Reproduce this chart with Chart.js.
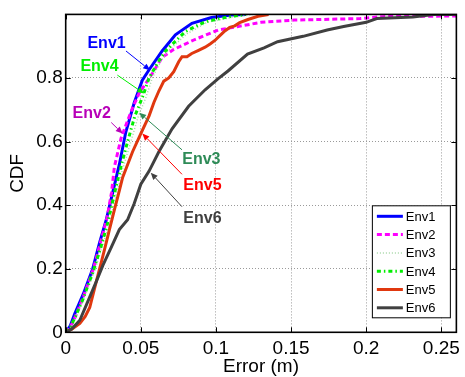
<!DOCTYPE html>
<html>
<head>
<meta charset="utf-8">
<script src="https://cdn.jsdelivr.net/npm/chart.js@4.4.0/dist/chart.umd.min.js"></script>
<style>
  body { margin: 0; background: #fff; }
  #wrap { width: 465px; height: 377px; }
</style>
</head>
<body>
<div id="wrap"><canvas id="chart" width="465" height="377"></canvas></div>
<script>
'use strict'

// error (m) / cdf pairs for each environment
const env1Err = [0, 0.003, 0.006, 0.0116, 0.018, 0.0226, 0.027, 0.0313, 0.0357, 0.040, 0.0456, 0.051, 0.0555, 0.0642, 0.073, 0.084, 0.097, 0.11, 0.12];
const env1Cdf = [0, 0.02, 0.058, 0.119, 0.2, 0.283, 0.354, 0.44, 0.528, 0.63, 0.722, 0.793, 0.826, 0.885, 0.936, 0.972, 0.99, 0.998, 1];

const env2Err = [0, 0.003, 0.0065, 0.012, 0.0185, 0.023, 0.0275, 0.0305, 0.0324, 0.0368, 0.0412, 0.0445, 0.0489, 0.0576, 0.0642, 0.072, 0.086, 0.1015, 0.1147, 0.13, 0.152, 0.196, 0.211, 0.26];
const env2Cdf = [0, 0.015, 0.05, 0.115, 0.2, 0.28, 0.36, 0.44, 0.52, 0.61, 0.666, 0.706, 0.752, 0.814, 0.865, 0.89, 0.921, 0.951, 0.962, 0.975, 0.982, 0.987, 0.993, 0.995];

const env3Err = [0, 0.0035, 0.007, 0.0125, 0.019, 0.024, 0.029, 0.0335, 0.038, 0.0434, 0.048, 0.0535, 0.0576, 0.063, 0.068, 0.081, 0.094, 0.11, 0.125];
const env3Cdf = [0, 0.015, 0.05, 0.11, 0.19, 0.265, 0.34, 0.43, 0.515, 0.6, 0.675, 0.74, 0.8, 0.85, 0.885, 0.94, 0.975, 0.99, 1];

const env4Err = [0, 0.003, 0.0065, 0.012, 0.0185, 0.0235, 0.028, 0.0324, 0.037, 0.0412, 0.046, 0.0515, 0.0555, 0.0615, 0.0664, 0.0796, 0.0928, 0.108, 0.12];
const env4Cdf = [0, 0.015, 0.05, 0.11, 0.195, 0.27, 0.345, 0.436, 0.525, 0.6, 0.68, 0.745, 0.8, 0.85, 0.885, 0.946, 0.977, 0.992, 1];

const env5Err = [0, 0.004, 0.0094, 0.013, 0.016, 0.0204, 0.0226, 0.0259, 0.0291, 0.0324, 0.0357, 0.0379, 0.0445, 0.05, 0.0555, 0.0587, 0.062, 0.0653, 0.0686, 0.0719, 0.0752, 0.0774, 0.0807, 0.0839, 0.0884, 0.0928, 0.0961, 0.0993, 0.1026, 0.1059, 0.1092, 0.1125, 0.1158, 0.1213, 0.128, 0.135];
const env5Cdf = [0, 0.01, 0.028, 0.05, 0.078, 0.16, 0.2, 0.262, 0.323, 0.385, 0.446, 0.487, 0.568, 0.625, 0.681, 0.723, 0.759, 0.79, 0.8, 0.82, 0.851, 0.867, 0.867, 0.877, 0.887, 0.897, 0.907, 0.918, 0.933, 0.948, 0.959, 0.964, 0.974, 0.984, 0.994, 1];

const env6Err = [0, 0.004, 0.0094, 0.0149, 0.0204, 0.0248, 0.0303, 0.0357, 0.0412, 0.0456, 0.05, 0.0555, 0.062, 0.0708, 0.0818, 0.0928, 0.1015, 0.108, 0.121, 0.132, 0.141, 0.158, 0.174, 0.185, 0.2, 0.207, 0.231, 0.245, 0.26];
const env6Cdf = [0, 0.01, 0.038, 0.099, 0.16, 0.211, 0.267, 0.323, 0.354, 0.405, 0.466, 0.507, 0.568, 0.64, 0.711, 0.763, 0.798, 0.822, 0.875, 0.895, 0.914, 0.931, 0.951, 0.962, 0.975, 0.987, 0.992, 1, 1];

const envNames = ['Env1', 'Env2', 'Env3', 'Env4', 'Env5', 'Env6'];
const xTicks = [0, 0.05, 0.1, 0.15, 0.2, 0.25];
const yTicks = [0, 0.2, 0.4, 0.6, 0.8];

/******************     SERIES STYLES    ******************/

const styles = [
    { color: '#0000ff', width: 3, dash: [] },
    { color: '#ff00ff', width: 3, dash: [5, 3] },
    { color: '#a6d8a6', width: 1.5, dash: [1, 2] },
    { color: '#00ee00', width: 3, dash: [4, 3, 1.5, 3] },
    { color: '#e0380f', width: 3, dash: [] },
    { color: '#404040', width: 3, dash: [] },
];

const series = [
    [env1Err, env1Cdf], [env2Err, env2Cdf], [env3Err, env3Cdf],
    [env4Err, env4Cdf], [env5Err, env5Cdf], [env6Err, env6Cdf],
];

const datasets = series.map(([errs, cdfs], i) => ({
    label: envNames[i],
    data: errs.map((e, k) => ({ x: e, y: cdfs[k] })),
    borderColor: styles[i].color,
    borderWidth: styles[i].width,
    borderDash: styles[i].dash,
    pointRadius: 0,
    fill: false,
    tension: 0,
    clip: 0,
    order: series.length - i,
}));

// callout labels with arrows, in data units
const notes = [
    { text: 'Env1', color: '#0000ff', at: [0.0272, 0.907], from: [0.0401, 0.885], to: [0.0562, 0.824] },
    { text: 'Env4', color: '#00ee00', at: [0.0225, 0.836], from: [0.0344, 0.809], to: [0.0522, 0.751] },
    { text: 'Env2', color: '#b800b8', at: [0.0173, 0.687], from: [0.0303, 0.66], to: [0.0379, 0.625] },
    { text: 'Env3', color: '#2e8b57', at: [0.0903, 0.543], from: [0.0774, 0.574], to: [0.0489, 0.691] },
    { text: 'Env5', color: '#ff0000', at: [0.091, 0.463], from: [0.0774, 0.497], to: [0.051, 0.625] },
    { text: 'Env6', color: '#404040', at: [0.091, 0.359], from: [0.0774, 0.395], to: [0.0566, 0.502] },
];

const FONT = '"Liberation Sans", Arial, Helvetica, sans-serif';

/******************     DRAWING HELPERS    ******************/

const drawArrow = (ctx, x0, y0, x1, y1, color) => {
    const ang = Math.atan2(y1 - y0, x1 - x0);
    const len = 7, half = 3;
    ctx.strokeStyle = color;
    ctx.fillStyle = color;
    ctx.lineWidth = 1;
    ctx.setLineDash([]);
    ctx.beginPath();
    ctx.moveTo(x0, y0);
    ctx.lineTo(x1 - Math.cos(ang) * len, y1 - Math.sin(ang) * len);
    ctx.stroke();
    ctx.beginPath();
    ctx.moveTo(x1, y1);
    ctx.lineTo(x1 - Math.cos(ang) * len - Math.sin(ang) * half, y1 - Math.sin(ang) * len + Math.cos(ang) * half);
    ctx.lineTo(x1 - Math.cos(ang) * len + Math.sin(ang) * half, y1 - Math.sin(ang) * len - Math.cos(ang) * half);
    ctx.closePath();
    ctx.fill();
}

const decor = {
    id: 'decor',
    afterDatasetsDraw(chart) {
        const { ctx, chartArea: a, scales: { x, y } } = chart;
        ctx.save();

        // inward ticks on all four sides + axes box
        ctx.strokeStyle = '#000';
        ctx.lineWidth = 1;
        ctx.setLineDash([]);
        ctx.beginPath();
        for (const v of xTicks) {
            const px = Math.round(x.getPixelForValue(v)) + 0.5;
            ctx.moveTo(px, a.bottom); ctx.lineTo(px, a.bottom - 5);
            ctx.moveTo(px, a.top); ctx.lineTo(px, a.top + 5);
        }
        for (const v of yTicks) {
            const py = Math.round(y.getPixelForValue(v)) + 0.5;
            ctx.moveTo(a.left, py); ctx.lineTo(a.left + 5, py);
            ctx.moveTo(a.right, py); ctx.lineTo(a.right - 5, py);
        }
        ctx.stroke();
        ctx.lineWidth = 1.6;
        ctx.strokeRect(a.left, a.top, a.right - a.left, a.bottom - a.top);

        // callouts
        ctx.font = `bold 16px ${FONT}`;
        ctx.textAlign = 'center';
        ctx.textBaseline = 'middle';
        for (const n of notes) {
            drawArrow(ctx, x.getPixelForValue(n.from[0]), y.getPixelForValue(n.from[1]),
                x.getPixelForValue(n.to[0]), y.getPixelForValue(n.to[1]), n.color);
            ctx.fillStyle = n.color;
            ctx.fillText(n.text, x.getPixelForValue(n.at[0]), y.getPixelForValue(n.at[1]));
        }

        // legend box in the lower right corner
        const bw = 78, bh = 112;
        const bx = a.right - 6.5 - bw, by = a.bottom - 15 - bh;
        ctx.fillStyle = '#fff';
        ctx.fillRect(bx, by, bw, bh);
        ctx.strokeStyle = '#000';
        ctx.lineWidth = 1;
        ctx.strokeRect(bx + 0.5, by + 0.5, bw, bh);
        ctx.font = `13px ${FONT}`;
        ctx.textAlign = 'left';
        chart.data.datasets.forEach((ds, i) => {
            const ry = by + 11 + i * 18.3;
            ctx.strokeStyle = ds.borderColor;
            ctx.lineWidth = ds.borderWidth;
            ctx.setLineDash(ds.borderDash);
            ctx.beginPath();
            ctx.moveTo(bx + 5, ry);
            ctx.lineTo(bx + 31, ry);
            ctx.stroke();
            ctx.fillStyle = '#000';
            ctx.fillText(ds.label, bx + 34, ry + 1);
        });
        ctx.restore();
    }
};

/******************     CHART    ******************/

const tickFont = { family: FONT, size: 19 };

const chart = new Chart(document.getElementById('chart'), {
    type: 'line',
    data: { datasets: datasets },
    options: {
        responsive: false,
        animation: false,
        events: [],
        layout: { padding: { top: 6.5, right: 4.3, left: 0, bottom: 0 } },
        plugins: { legend: { display: false }, tooltip: { enabled: false } },
        scales: {
            x: {
                type: 'linear',
                min: 0,
                max: 0.26,
                afterBuildTicks: (s) => { s.ticks = xTicks.map(v => ({ value: v })); },
                afterFit: (s) => { s.height = 44.7; },
                ticks: { font: tickFont, color: '#000', padding: 5, maxRotation: 0, autoSkip: false, callback: v => String(v) },
                grid: { color: '#9a9a9a', lineWidth: 1, drawTicks: false },
                border: { display: false, dash: [1, 2] },
                title: { display: true, text: 'Error (m)', font: { family: FONT, size: 19, lineHeight: 1 }, color: '#000', padding: { top: 0, bottom: 0.5 } },
            },
            y: {
                type: 'linear',
                min: 0,
                max: 1,
                afterBuildTicks: (s) => { s.ticks = yTicks.map(v => ({ value: v })); },
                afterFit: (s) => { s.width = 65.7; },
                ticks: { font: tickFont, color: '#000', padding: 3, autoSkip: false, callback: v => String(v) },
                grid: { color: '#9a9a9a', lineWidth: 1, drawTicks: false },
                border: { display: false, dash: [1, 2] },
                title: { display: true, text: 'CDF', font: { family: FONT, size: 19, lineHeight: 1 }, color: '#000', padding: { top: 8.5, bottom: 0 } },
            },
        },
    },
    plugins: [decor],
});
</script>
</body>
</html>
